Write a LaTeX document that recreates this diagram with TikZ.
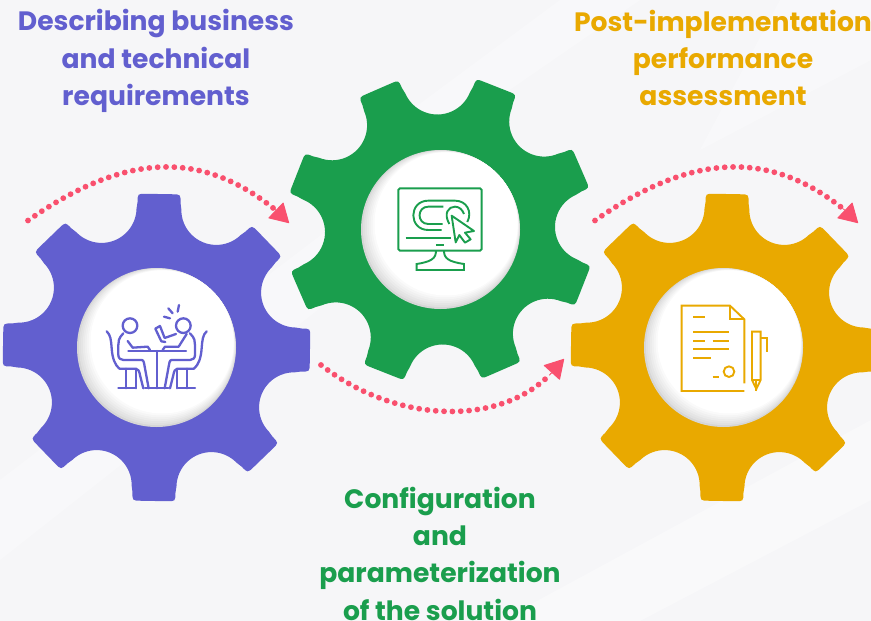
\documentclass[tikz,border=0pt]{standalone}
\usepackage{fontspec}
\setmainfont{Poppins}
\usepackage{xcolor}
\usetikzlibrary{arrows.meta,calc,shapes.geometric}
\definecolor{planblue}{HTML}{625FCF}
\definecolor{plangreen}{HTML}{1A9E4D}
\definecolor{planyellow}{HTML}{E9A900}
\definecolor{flowpink}{HTML}{F9506E}
\definecolor{paper}{HTML}{F6F6F8}
% one cog with eight teeth, y running upwards inside
\newcommand{\cogwheel}[3]{%
  \begin{scope}[shift={#1},y=1pt,rotate=#2]
    \fill[#3] (138.6,-22.4)
      \foreach \ang in {0,45,...,315} {
        -- ([rotate=\ang]145,-21.5)
        .. controls ([rotate=\ang]153.5,-21.5) .. ([rotate=\ang]153.5,-13)
        -- ([rotate=\ang]153.5,13)
        .. controls ([rotate=\ang]153.5,21.5) .. ([rotate=\ang]145,21.5)
        -- ([rotate=\ang]138.6,22.4)
        arc[start angle=\ang-90, delta angle=-135, radius=35]
      } -- cycle;
  \end{scope}}
% soft grey crescent on the lower left of a hub
\newcommand{\hubglow}[1]{%
  \foreach \st in {1,...,7} {
    \pgfmathsetmacro{\tone}{14-2*\st}
    \fill[black!\tone!white] ($(#1)+(\st*0.8,-\st*0.8)$) circle[radius=79.5-\st*1.13];
  }}
\begin{document}
\begin{tikzpicture}[
    x=1pt, y=-1pt,
    title/.style={font=\fontsize{26.6}{37.3}\selectfont\bfseries, align=center, inner sep=0pt},
    hub/.style={circle, minimum size=159pt, inner sep=0pt, fill=black!16},
    flow/.style={flowpink, line width=5.8pt, line cap=round, dash pattern=on 0pt off 8.35pt},
    flowtip/.style={-{Triangle[length=19pt,width=22pt,round,line width=1pt]}, flowpink, line width=1pt, shorten <=-1pt},
    icon/.style={line width=2.3pt, line cap=round, line join=round},
    thinicon/.style={line width=1.9pt, line cap=butt, line join=miter}
]
    \useasboundingbox (0,0) rectangle (871,621);
    \fill[paper] (0,0) rectangle (871,621);
    % faint streaks behind
    \fill[white, opacity=0.3] (0,480) -- (380,190) -- (470,190) -- (0,560) -- cycle;
    \fill[white, opacity=0.3] (560,0) -- (640,0) -- (350,200) -- (290,200) -- cycle;
    \fill[white, opacity=0.35] (500,621) -- (871,420) -- (871,500) -- (640,621) -- cycle;
    \fill[white, opacity=0.3] (780,0) -- (871,0) -- (871,60) -- (700,150) -- cycle;

    \cogwheel{(156.5,347.5)}{-1}{planblue}
    \cogwheel{(440,229.5)}{23.5}{plangreen}
    \cogwheel{(724.5,347.5)}{-1}{planyellow}

    \node[hub] (bluehub) at (156.5,347.5) {};
    \node[hub] (greenhub) at (440.5,229.5) {};
    \node[hub] (yellowhub) at (723.5,347.5) {};
    \hubglow{bluehub}
    \hubglow{greenhub}
    \hubglow{yellowhub}

    \node[title, planblue] (bluetitle) at (156,61) {Describing business\\and technical\\requirements};
    \node[title, planyellow] (yellowtitle) at (723,58) {Post-implementation\\performance\\assessment};
    \node[title, plangreen] (greentitle) at (440,553.5) {Configuration\\and\\parameterization\\of the solution};

    % dotted arrows
    \coordinate (flowa) at (28,220.5);
    \coordinate (flowb) at (275,209.5);
    \coordinate (flowc) at (321,365);
    \coordinate (flowd) at (550,374.5);
    \coordinate (flowe) at (595,220.5);
    \coordinate (flowf) at (844,209.5);
    \coordinate (tipb) at (289,223);
    \coordinate (tipd) at (564,359);
    \coordinate (tipf) at (858,223);
    \draw[flow] (flowa) .. controls +(100,-70) and +(-72,-58) .. (flowb);
    \draw[flow] (flowc) .. controls +(77,60) and +(-50,51) .. (flowd);
    \draw[flow] (flowe) .. controls +(100,-70) and +(-72,-58) .. (flowf);
    \draw[flowtip] (flowb) -- (tipb);
    \draw[flowtip] (flowd) -- (tipd);
    \draw[flowtip] (flowf) -- (tipf);

    % two people at a table
    \begin{scope}[shift={(80,270)}, x=0.3333pt, y=-0.3333pt, icon, draw=planblue]
        \draw (150,167) circle[radius=22];
        \draw (310,167) circle[radius=22];
        \foreach \flip in {1,-1} {
            \begin{scope}[shift={(230,0)}, xscale=\flip]
                \draw (-100,190) .. controls (-115,205) and (-115,215) .. (-115,225) -- (-115,255) .. controls (-115,265) and (-108,270) .. (-100,270) -- (-45,270) .. controls (-38,270) and (-38,280) .. (-35,295) -- (-24,355);
                \draw (-112,296) -- (-62,296) .. controls (-55,296) and (-52,305) .. (-50,315) -- (-40,355);
                \draw (-150,184) .. controls (-138,195) and (-137,210) .. (-135,235) .. controls (-133,265) and (-125,285) .. (-112,296);
                \draw (-92,296) -- (-92,355);
                \draw (-62,300) -- (-62,355);
                \draw (-115,355) -- (-65,355);
            \end{scope}
        }
        \draw (145,243) -- (318,243);
        \draw (230,243) -- (230,355);
        \draw (195,355) -- (265,355);
        \draw (143,213) -- (158,233) -- (203,230) -- (210,240);
        \draw (320,192) -- (296,230) -- (255,230) -- (248,240);
        \draw (288,192) -- (254,204) -- (240,168) -- (226,176) -- (244,214) -- (256,216);
        \draw (252,140) -- (270,145);
        \draw (265,115) -- (278,130);
        \draw (297,105) -- (293,125);
    \end{scope}

    % monitor with a cursor
    \begin{scope}[shift={(360,150)}, x=0.3333pt, y=-0.3333pt, thinicon, draw=plangreen]
        \draw[rounded corners=1.5pt] (115,115) rectangle (365,302);
        \draw (228,302) .. controls (228,325) and (215,335) .. (170,342) -- (170,360) -- (312,360) -- (312,342) .. controls (265,335) and (252,325) .. (252,302);
        \draw (228,285) -- (252,285);
        \draw (137,265) -- (272,265);
        \draw (248,222) -- (205,222) .. controls (170,222) and (170,170) .. (205,170) -- (250,170);
        \draw (245,240) -- (205,240) .. controls (145,240) and (145,152) .. (205,152) -- (285,152) .. controls (320,152) and (338,185) .. (322,216);
        \draw (268,222) .. controls (250,190) and (265,170) .. (285,170) .. controls (298,170) and (308,180) .. (312,192);
        \draw[line join=round, fill=white] (275,197) -- (342,243) -- (315,248) -- (332,268) -- (315,278) -- (298,255) -- (287,277) -- cycle;
    \end{scope}

    % signed document and pen
    \begin{scope}[shift={(640,265)}, x=0.3333pt, y=-0.3333pt, thinicon, draw=planyellow]
        \draw (313,378) -- (125,378) -- (125,122) -- (270,122) -- (313,163) -- (313,355);
        \draw (270,122) -- (270,163) -- (313,163);
        \draw (160,157) -- (195,157);
        \draw (160,201) -- (267,201);
        \draw (160,228) -- (195,228);
        \draw (218,228) -- (267,228);
        \draw (160,253) -- (267,253);
        \draw (160,279) -- (212,279);
        \draw (218,335) -- (237,335);
        \draw (267,320) circle[radius=16];
        \draw (336,200) -- (362,200) -- (362,345) -- (349,372) -- (336,345) -- cycle;
        \draw (336,345) -- (362,345);
        \draw (349,345) -- (349,378);
        \draw (362,218) -- (380,218) -- (380,260);
    \end{scope}
\end{tikzpicture}
\end{document}
